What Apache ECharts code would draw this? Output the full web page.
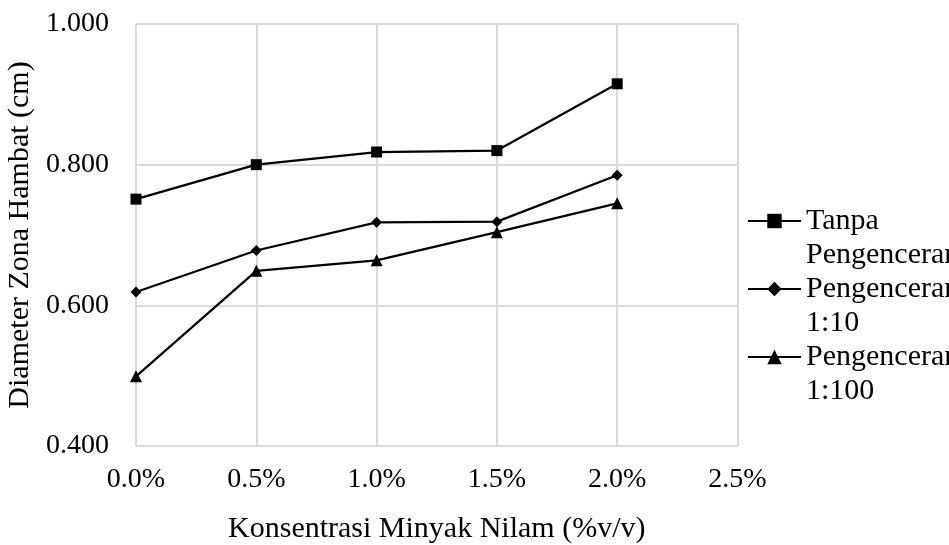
<!DOCTYPE html>
<html>
<head>
<meta charset="utf-8">
<script src="https://cdn.jsdelivr.net/npm/echarts@6/dist/echarts.min.js"></script>
<style>html,body{margin:0;padding:0;background:#fff}#c{width:949px;height:545px}</style>
</head>
<body>
<div id="c"></div>
<script>
const concentrations = [0, 0.005, 0.010, 0.015, 0.020];
const seriesNames = ['Tanpa\nPengenceran', 'Pengenceran\n1:10', 'Pengenceran\n1:100'];
const tanpaValues = [0.751, 0.800, 0.818, 0.820, 0.915];
const dil10Values = [0.619, 0.678, 0.718, 0.719, 0.785];
const dil100Values = [0.499, 0.649, 0.664, 0.704, 0.745];
const yTicks = [0.4, 0.6, 0.8, 1.0];
const xTickLabels = ['0.0%', '0.5%', '1.0%', '1.5%', '2.0%', '2.5%'];

const FONT = '"Liberation Serif", "Times New Roman", serif';
const pair = vals => concentrations.map((x, i) => [x, vals[i]]);
const symbols = ['rect', 'diamond', 'triangle'];
const sizes = [11, 11, 12];
const allValues = [tanpaValues, dil10Values, dil100Values];

const chart = echarts.init(document.getElementById('c'));
chart.setOption({
  animation: false,
  backgroundColor: '#fff',
  textStyle: { fontFamily: FONT, color: '#000' },
  grid: { left: 136, right: 211.5, top: 24, bottom: 99, containLabel: false, outerBoundsMode: 'none' },
  legend: {
    orient: 'vertical',
    left: 747, top: 170,
    padding: 0,
    itemGap: -34,
    itemWidth: 53, itemHeight: 18,
    data: seriesNames,
    formatter: name => '\n' + name,
    textStyle: { fontFamily: FONT, fontSize: 30, color: '#000', lineHeight: 34 }
  },
  xAxis: {
    type: 'value', min: 0, max: 0.025, interval: 0.005,
    name: 'Konsentrasi Minyak Nilam (%v/v)',
    nameLocation: 'middle', nameGap: 68,
    nameTextStyle: { fontFamily: FONT, fontSize: 30, color: '#000' },
    axisLine: { show: false }, axisTick: { show: false },
    axisLabel: { fontFamily: FONT, fontSize: 28, color: '#000', margin: 20,
      formatter: (v) => { const i = Math.round(v / 0.005); return xTickLabels[i] ?? ''; } },
    splitLine: { show: true, lineStyle: { color: '#d9d9d9', width: 2 } }
  },
  yAxis: {
    type: 'value', min: yTicks[0], max: yTicks[yTicks.length - 1], interval: 0.2,
    name: 'Diameter Zona Hambat (cm)',
    nameLocation: 'middle', nameGap: 96,
    nameTextStyle: { fontFamily: FONT, fontSize: 30, color: '#000' },
    axisLine: { show: false }, axisTick: { show: false },
    axisLabel: { fontFamily: FONT, fontSize: 28, color: '#000', margin: 27,
      formatter: (v) => v.toFixed(3) },
    splitLine: { show: true, lineStyle: { color: '#d9d9d9', width: 2 } }
  },
  series: seriesNames.map((name, k) => ({
    name, type: 'line',
    data: pair(allValues[k]),
    symbol: symbols[k], symbolSize: sizes[k],
    showAllSymbol: true,
    lineStyle: { color: '#000', width: 2.25 },
    itemStyle: { color: '#000' },
    z: 3 + k
  }))
});
</script>
</body>
</html>
